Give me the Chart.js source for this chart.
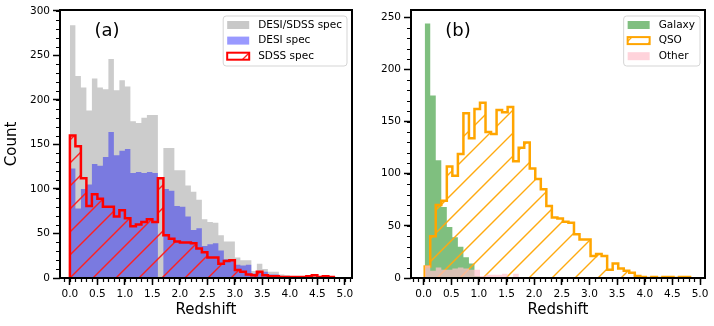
<!DOCTYPE html>
<html>
<head>
<meta charset="utf-8">
<script src="https://cdn.jsdelivr.net/npm/chart.js@4.4.1/dist/chart.umd.min.js"></script>
<style>
html,body{margin:0;padding:0;background:#fff;}
#wrap{width:714px;height:326px;display:flex;}
canvas{display:block;}
</style>
</head>
<body>
<div id="wrap">
<canvas id="chartA" width="357" height="326"></canvas>
<canvas id="chartB" width="357" height="326"></canvas>
</div>
<script>
// histogram bins: width 0.1, left edges start here
const binWidth = 0.1;
const binStartA = 0.0;
const binStartB = 0.02;

// panel (a) counts per bin
const desiSdssSpec = [284,227,214,188,224,214,212,246,211,222,215,176,174,180,183,183,113,146,146,121,121,104,97,88,66,63,62,48,41,41,23,20,20,8,16,10,7,7,4,3,2,2,2,3,3,2,2,1,1];
const desiSpec = [123,78,100,105,128,126,136,164,138,143,145,118,119,118,119,118,0,100,98,81,80,69,54,56,36,38,39,31,21,21,15,14,15,5,8,7,4,4,2,2,1,1,1,1,1,1,0,0,0];
const sdssSpec = [160,148,112,81,94,89,80,80,69,76,67,58,60,63,66,63,112,48,44,41,40,40,39,33,29,23,23,16,19,20,9,7,4,3,7,3,2,2,1,1,1,1,1,2,3,1,2,1];

// panel (b) counts per bin
const galaxy = [244,175,113,68,49,39,30,20,14,2,1];
const qso = [11,40,70,74,107,98,119,158,134,162,168,140,138,161,159,164,112,125,130,105,95,85,69,58,57,54,53,42,37,37,21,23,21,8,14,9,7,5,2,1,0,1,0,1,1,0,1,1];
const other = [12,7,10,8,8,9,10,9,8,8,2,3,3,3,4,0,4,0,0,0,0,0,0,0,0,0,1];

// ticks
const xTicks = [0,0.5,1,1.5,2,2.5,3,3.5,4,4.5,5];
const yTicksA = [0,50,100,150,200,250,300];
const yTicksB = [0,50,100,150,200,250];

Chart.defaults.font.family = '"DejaVu Sans", sans-serif';
Chart.defaults.color = '#000';

function stepPoints(start, counts){
  const pts = [{x:start, y:0}];
  counts.forEach((v,i)=>{
    pts.push({x:start + i*binWidth, y:v});
  });
  pts.push({x:start + counts.length*binWidth, y:0});
  return pts;
}

// diagonal "/" hatch lines inside the current clip, x+y = phase (mod spacing)
function strokeHatch(ctx, box, color, spacing, phase){
  ctx.strokeStyle = color;
  ctx.lineWidth = 1.4;
  ctx.beginPath();
  const cMin = box.left + box.top, cMax = box.right + box.bottom;
  for(let c = Math.floor((cMin - phase)/spacing)*spacing + phase; c <= cMax + spacing; c += spacing){
    ctx.moveTo(c - box.top, box.top);
    ctx.lineTo(c - box.bottom, box.bottom);
  }
  ctx.stroke();
}

const hatchFill = {
  id:'hatchFill',
  beforeDatasetDraw(chart, args, opts){
    const ds = chart.data.datasets[args.index];
    if(!ds.hatchColor) return;
    const pts = args.meta.data;
    const {ctx, chartArea} = chart;
    ctx.save();
    ctx.beginPath();
    ctx.rect(chartArea.left, chartArea.top, chartArea.right - chartArea.left, chartArea.bottom - chartArea.top);
    ctx.clip();
    ctx.beginPath();
    ctx.moveTo(pts[0].x, pts[0].y);
    for(let i=1;i<pts.length;i++){
      ctx.lineTo(pts[i].x, pts[i-1].y);
      ctx.lineTo(pts[i].x, pts[i].y);
    }
    ctx.closePath();
    ctx.clip();
    strokeHatch(ctx, chartArea, ds.hatchColor, opts.spacing, opts.phase);
    ctx.restore();
  }
};

const frame = {
  id:'frame',
  afterDraw(chart, args, opts){
    const {ctx, chartArea, scales} = chart;
    ctx.save();
    ctx.strokeStyle = '#000';
    // minor ticks
    ctx.lineWidth = 1.2;
    ctx.beginPath();
    const xs = scales.x, ys = scales.y;
    for(let k=Math.ceil(xs.min/opts.xMinor - 1e-6); k<=Math.floor(xs.max/opts.xMinor + 1e-6); k++){
      const px = Math.round(xs.getPixelForValue(k*opts.xMinor)) + 0.5;
      ctx.moveTo(px, chartArea.bottom);
      ctx.lineTo(px, chartArea.bottom + 4);
    }
    for(let k=Math.ceil(ys.min/opts.yMinor); k<=Math.floor(ys.max/opts.yMinor); k++){
      const py = Math.round(ys.getPixelForValue(k*opts.yMinor)) + 0.5;
      ctx.moveTo(chartArea.left, py);
      ctx.lineTo(chartArea.left - 4, py);
    }
    ctx.stroke();
    // spines
    ctx.lineWidth = 2;
    ctx.strokeRect(chartArea.left, chartArea.top, chartArea.right - chartArea.left, chartArea.bottom - chartArea.top);
    // panel label
    ctx.fillStyle = '#000';
    ctx.font = '18px "DejaVu Sans"';
    ctx.textAlign = 'center';
    ctx.textBaseline = 'middle';
    ctx.fillText(opts.label, chartArea.left + 47, chartArea.top + 21);
    ctx.restore();
  }
};

const legendBox = {
  id:'legendBox',
  afterDraw(chart, args, opts){
    const {ctx, chartArea} = chart;
    ctx.save();
    ctx.font = '10.5px "DejaVu Sans"';
    const textW = Math.max(...opts.items.map(it=>ctx.measureText(it.label).width));
    const w = 4 + 22 + 9 + textW + 5;
    const h = 50;
    const x0 = chartArea.right - opts.right - w;
    const y0 = chartArea.top + opts.top;
    ctx.beginPath();
    ctx.roundRect(x0, y0, w, h, 3);
    ctx.fillStyle = 'rgba(255,255,255,0.8)';
    ctx.fill();
    ctx.strokeStyle = '#d5d5d5';
    ctx.lineWidth = 1;
    ctx.stroke();
    opts.items.forEach((it,i)=>{
      const cy = y0 + 9 + i*15.6;
      const px = x0 + 4;
      if(it.hatch){
        const r = {left:px, top:cy-3.5, right:px+22, bottom:cy+3.5};
        ctx.fillStyle = '#fff';
        ctx.fillRect(px, cy-3.5, 22, 7);
        ctx.save();
        ctx.beginPath();
        ctx.rect(px, cy-3.5, 22, 7);
        ctx.clip();
        strokeHatch(ctx, r, it.hatch, opts.spacing, opts.phase);
        ctx.restore();
        ctx.strokeStyle = it.stroke;
        ctx.lineWidth = 2;
        ctx.strokeRect(px, cy-3.5, 22, 7);
      }else{
        ctx.fillStyle = it.fill;
        ctx.fillRect(px, cy-4, 22, 8);
      }
      ctx.fillStyle = '#000';
      ctx.textAlign = 'left';
      ctx.textBaseline = 'middle';
      ctx.fillText(it.label, px + 31, cy);
    });
    ctx.restore();
  }
};

function histFill(label, start, counts, color, order){
  return {
    label:label,
    data:stepPoints(start, counts),
    stepped:true,
    fill:'origin',
    backgroundColor:color,
    borderColor:'transparent',
    borderWidth:0,
    pointRadius:0,
    order:order
  };
}

function histStep(label, start, counts, color, hatchColor, order){
  return {
    label:label,
    data:stepPoints(start, counts),
    stepped:true,
    fill:false,
    hatchColor:hatchColor,
    borderColor:color,
    borderWidth:2.5,
    pointRadius:0,
    order:order
  };
}

function panelOptions(cfg){
  const tickFont = {size:10.5};
  return {
    responsive:false,
    animation:false,
    layout:{padding:{left:0, right:cfg.padRight, top:10, bottom:0}},
    plugins:{
      legend:{display:false},
      tooltip:{enabled:false},
      frame:{label:cfg.label, xMinor:0.1, yMinor:10},
      hatchFill:{spacing:23, phase:cfg.phase},
      legendBox:{items:cfg.legend, right:5, top:6, spacing:23, phase:cfg.phase}
    },
    scales:{
      x:{
        type:'linear',
        min:cfg.xMin,
        max:cfg.xMax,
        afterBuildTicks:s=>{ s.ticks = xTicks.map(v=>({value:v})); },
        afterFit:s=>{ s.height = 48; },
        ticks:{font:tickFont, color:'#000', padding:3, maxRotation:0, autoSkip:false,
          callback:v=>Number(v).toFixed(1)},
        grid:{drawOnChartArea:false, drawTicks:true, tickLength:7, tickWidth:1.5, tickColor:'#000'},
        border:{display:false},
        title:{display:true, text:'Redshift', font:{size:15}, color:'#000', padding:{top:0, bottom:7}}
      },
      y:{
        min:0,
        max:cfg.yMax,
        afterBuildTicks:s=>{ s.ticks = cfg.yTicks.map(v=>({value:v})); },
        afterFit:s=>{ s.width = cfg.yWidth; },
        ticks:{font:tickFont, color:'#000', padding:3},
        grid:{drawOnChartArea:false, drawTicks:true, tickLength:7, tickWidth:1.5, tickColor:'#000'},
        border:{display:false},
        title:{display:cfg.yTitle !== '', text:cfg.yTitle, font:{size:15}, color:'#000', padding:{top:3, bottom:0}}
      }
    }
  };
}

new Chart(document.getElementById('chartA'), {
  type:'line',
  data:{
    datasets:[
      histFill('DESI/SDSS spec', binStartA, desiSdssSpec, '#cccccc', 3),
      histFill('DESI spec', binStartA, desiSpec, 'rgba(0,0,255,0.4)', 2),
      histStep('SDSS spec', binStartA, sdssSpec, '#ff0000', '#ff2020', 1)
    ]
  },
  options:panelOptions({
    label:'(a)', padRight:5, xMin:-0.18, xMax:5.13, yMax:301, yTicks:yTicksA, yWidth:60, yTitle:'Count', phase:3,
    legend:[
      {label:'DESI/SDSS spec', fill:'#c8c8c8'},
      {label:'DESI spec', fill:'#9999ff'},
      {label:'SDSS spec', stroke:'#ff0000', hatch:'#ff2020'}
    ]
  }),
  plugins:[hatchFill, frame, legendBox]
});

new Chart(document.getElementById('chartB'), {
  type:'line',
  data:{
    datasets:[
      histFill('Galaxy', binStartB, galaxy, 'rgba(0,128,0,0.5)', 3),
      histStep('QSO', binStartB, qso, '#ffa500', '#ffaa10', 2),
      histFill('Other', binStartB, other, 'rgba(255,192,203,0.7)', 1)
    ]
  },
  options:panelOptions({
    label:'(b)', padRight:9, xMin:-0.228, xMax:5.09, yMax:257, yTicks:yTicksB, yWidth:54, yTitle:'', phase:13,
    legend:[
      {label:'Galaxy', fill:'#80bf80'},
      {label:'QSO', stroke:'#ffa500', hatch:'#ffaa10'},
      {label:'Other', fill:'#ffd3db'}
    ]
  }),
  plugins:[hatchFill, frame, legendBox]
});
</script>
</body>
</html>
